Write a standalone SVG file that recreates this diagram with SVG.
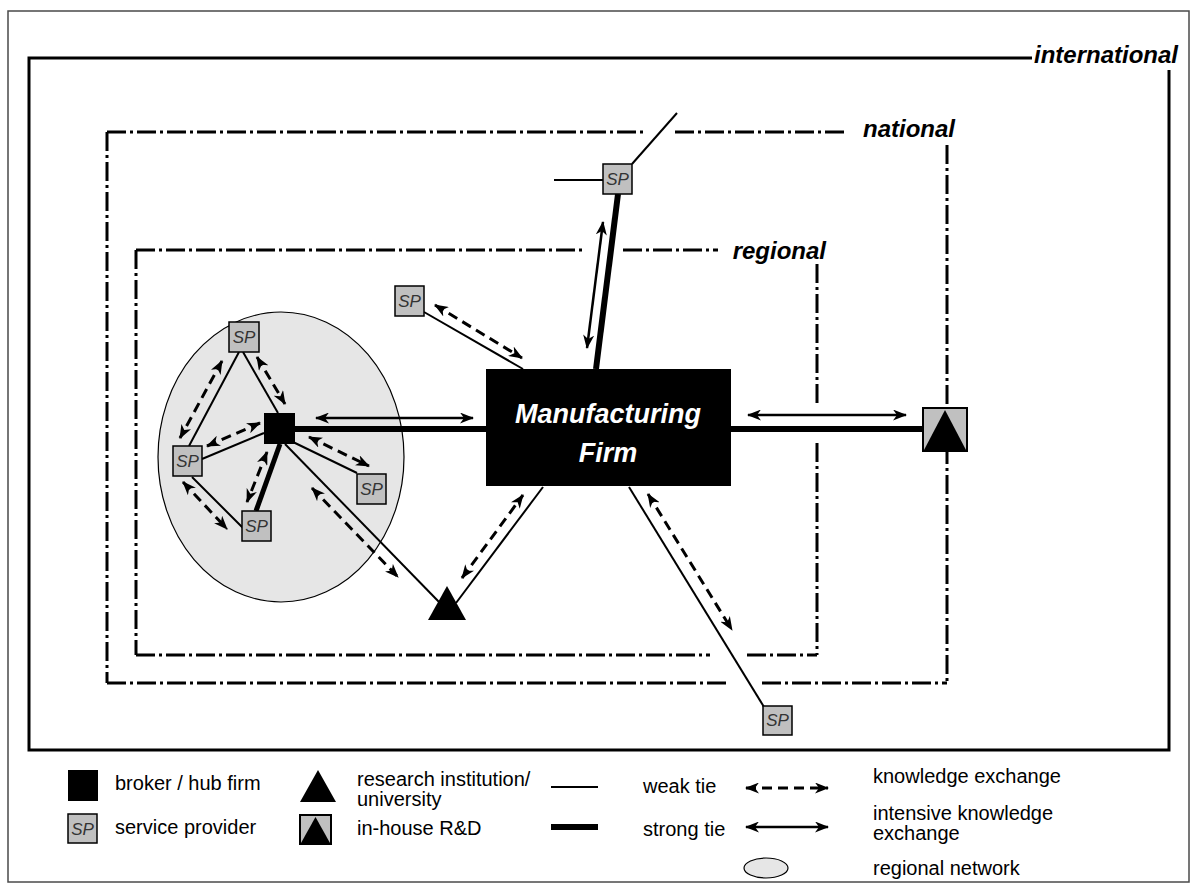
<svg xmlns="http://www.w3.org/2000/svg" width="1197" height="888" viewBox="0 0 1197 888">
  <style>
    .frame { fill: none; stroke: #4a4a4a; stroke-width: 1.5; }
    .intl { fill: none; stroke: #000; stroke-width: 3; }
    .zone { fill: none; stroke: #000; stroke-width: 3; stroke-dasharray: 19 4 3 4; }
    .lbl { font-family: "Liberation Sans", Arial, sans-serif; font-weight: bold; font-style: italic; font-size: 24px; fill: #000; }
    .weak { stroke: #000; stroke-width: 2; fill: none; }
    .strong { stroke: #000; stroke-width: 6; fill: none; }
    .strong5 { stroke: #000; stroke-width: 5; fill: none; }
    .intense { stroke: #000; stroke-width: 2.5; fill: none; marker-start: url(#head); marker-end: url(#head); }
    .know { stroke: #000; stroke-width: 3; fill: none; stroke-dasharray: 10 6; marker-start: url(#head); marker-end: url(#head); }
    .sp rect { fill: #c0c0c0; stroke: #000; stroke-width: 1.5; }
    .sp text { font-family: "Liberation Sans", Arial, sans-serif; font-style: italic; font-size: 17px; fill: #333; text-anchor: middle; }
    .leg { font-family: "Liberation Sans", Arial, sans-serif; font-size: 20px; fill: #000; }
  </style>
  <defs>
    <marker id="head" viewBox="0 0 14 11" refX="13" refY="5.5" markerWidth="14" markerHeight="11" markerUnits="userSpaceOnUse" orient="auto-start-reverse">
      <path d="M0,0 L14,5.5 L0,11 L4,5.5 z" fill="#000"/>
    </marker>
  </defs>

  <rect width="1197" height="888" fill="#fff"/>

  <!-- page frame -->
  <rect class="frame" x="8" y="11" width="1181" height="871"/>

  <!-- spatial levels -->
  <g id="levels">
    <path class="intl" d="M1032,58 H29 V750 H1169 V70"/>
    <text class="lbl" x="1178" y="63" text-anchor="end">international</text>

    <path class="zone" d="M107,132 H646 M675,132 H845"/>
    <path class="zone" d="M947,145 V683"/>
    <path class="zone" d="M107,683 H727 M762,683 H947"/>
    <path class="zone" d="M107,132 V683"/>
    <text class="lbl" x="955" y="137" text-anchor="end">national</text>

    <path class="zone" d="M136,250 H583 M623,250 H718"/>
    <path class="zone" d="M817,264 V405 M817,443 V655"/>
    <path class="zone" d="M136,655 H710 M747,655 H817"/>
    <path class="zone" d="M136,250 V655"/>
    <text class="lbl" x="826" y="259" text-anchor="end">regional</text>
  </g>

  <!-- regional network -->
  <g id="regional-network">
    <ellipse cx="281" cy="457" rx="123" ry="145" fill="#e6e6e6" stroke="#000" stroke-width="1.2"/>
  </g>

  <!-- ties and knowledge flows -->
  <g id="connectors">
    <line class="weak" x1="239" y1="352" x2="189" y2="446"/>
    <line class="weak" x1="243" y1="352" x2="278" y2="413"/>
    <line class="weak" x1="202" y1="459" x2="264" y2="433"/>
    <line class="weak" x1="192" y1="477" x2="243" y2="528"/>
    <line class="weak" x1="293" y1="442" x2="357" y2="473"/>
    <line class="weak" x1="285" y1="444" x2="440" y2="603"/>
    <line class="weak" x1="456" y1="603" x2="543" y2="487"/>
    <line class="weak" x1="424" y1="312" x2="523" y2="369"/>
    <line class="weak" x1="629" y1="487" x2="764" y2="707"/>
    <line class="weak" x1="554" y1="180" x2="603" y2="180"/>
    <line class="weak" x1="632" y1="164" x2="677" y2="113"/>

    <line class="strong" x1="295" y1="429" x2="486" y2="429"/>
    <line class="strong" x1="731" y1="429" x2="923" y2="429"/>
    <line class="strong5" x1="280" y1="444" x2="256" y2="511"/>
    <line class="strong" x1="618" y1="194" x2="596" y2="369"/>

    <line class="intense" x1="316" y1="418" x2="473" y2="418"/>
    <line class="intense" x1="748" y1="415" x2="906" y2="415"/>
    <line class="intense" x1="603" y1="222" x2="587" y2="348"/>

    <line class="know" x1="222" y1="361" x2="180" y2="438"/>
    <line class="know" x1="257" y1="357" x2="285" y2="404"/>
    <line class="know" x1="207" y1="446" x2="260" y2="423"/>
    <line class="know" x1="267" y1="452" x2="247" y2="502"/>
    <line class="know" x1="183" y1="482" x2="227" y2="529"/>
    <line class="know" x1="309" y1="437" x2="369" y2="466"/>
    <line class="know" x1="312" y1="488" x2="398" y2="577"/>
    <line class="know" x1="462" y1="578" x2="523" y2="495"/>
    <line class="know" x1="435" y1="305" x2="522" y2="358"/>
    <line class="know" x1="648" y1="494" x2="732" y2="630"/>
  </g>

  <!-- actors -->
  <g id="firm">
    <rect x="486" y="369" width="245" height="117" fill="#000"/>
    <text x="608" y="423" text-anchor="middle" font-family="Liberation Sans, Arial, sans-serif" font-weight="bold" font-style="italic" font-size="27" fill="#fff">Manufacturing</text>
    <text x="608" y="462" text-anchor="middle" font-family="Liberation Sans, Arial, sans-serif" font-weight="bold" font-style="italic" font-size="27" fill="#fff">Firm</text>
  </g>
  <g id="broker">
    <rect x="264" y="413" width="31" height="31" fill="#000"/>
  </g>
  <g id="sp-top-cluster" class="sp"><rect x="229" y="322" width="30" height="30"/><text x="244" y="343">SP</text></g>
  <g id="sp-left-cluster" class="sp"><rect x="173" y="446" width="29" height="30"/><text x="187.5" y="467">SP</text></g>
  <g id="sp-bottom-cluster" class="sp"><rect x="242" y="511" width="29" height="30"/><text x="256.5" y="532">SP</text></g>
  <g id="sp-right-cluster" class="sp"><rect x="357" y="474" width="29" height="30"/><text x="371.5" y="495">SP</text></g>
  <g id="sp-regional" class="sp"><rect x="395" y="286" width="29" height="30"/><text x="409.5" y="307">SP</text></g>
  <g id="sp-national" class="sp"><rect x="603" y="164" width="29" height="30"/><text x="617.5" y="185">SP</text></g>
  <g id="sp-international" class="sp"><rect x="763" y="706" width="29" height="29"/><text x="777.5" y="726">SP</text></g>
  <g id="research">
    <polygon points="447,586 428,620 466,620" fill="#000"/>
  </g>
  <g id="inhouse-rd">
    <rect x="923" y="408" width="44" height="43" fill="#c0c0c0" stroke="#000" stroke-width="2"/>
    <polygon points="924,450 945,410 966,450" fill="#000"/>
  </g>

  <!-- legend -->
  <g id="legend">
    <rect x="68" y="770" width="30" height="31" fill="#000"/>
    <text class="leg" x="115" y="790">broker / hub firm</text>
    <g class="sp"><rect x="68" y="814" width="29" height="29"/><text x="82.5" y="835">SP</text></g>
    <text class="leg" x="115" y="834">service provider</text>

    <polygon points="318,770 300,802 336,802" fill="#000"/>
    <text class="leg" x="357" y="786">research institution/</text>
    <text class="leg" x="357" y="806">university</text>
    <rect x="300" y="815" width="31" height="29" fill="#c0c0c0" stroke="#000" stroke-width="2"/>
    <polygon points="301,843 315.5,817 330,843" fill="#000"/>
    <text class="leg" x="357" y="835">in-house R&amp;D</text>

    <line class="weak" x1="551" y1="787" x2="598" y2="787"/>
    <text class="leg" x="643" y="793">weak tie</text>
    <line class="strong" x1="551" y1="827" x2="598" y2="827"/>
    <text class="leg" x="643" y="836">strong tie</text>

    <line class="know" x1="746" y1="788" x2="828" y2="788"/>
    <text class="leg" x="873" y="783">knowledge exchange</text>
    <line class="intense" x1="746" y1="827" x2="828" y2="827"/>
    <text class="leg" x="873" y="820">intensive knowledge</text>
    <text class="leg" x="873" y="840">exchange</text>
    <ellipse cx="766" cy="868" rx="22" ry="10" fill="#e6e6e6" stroke="#000" stroke-width="1.2"/>
    <text class="leg" x="873" y="875">regional network</text>
  </g>
</svg>
